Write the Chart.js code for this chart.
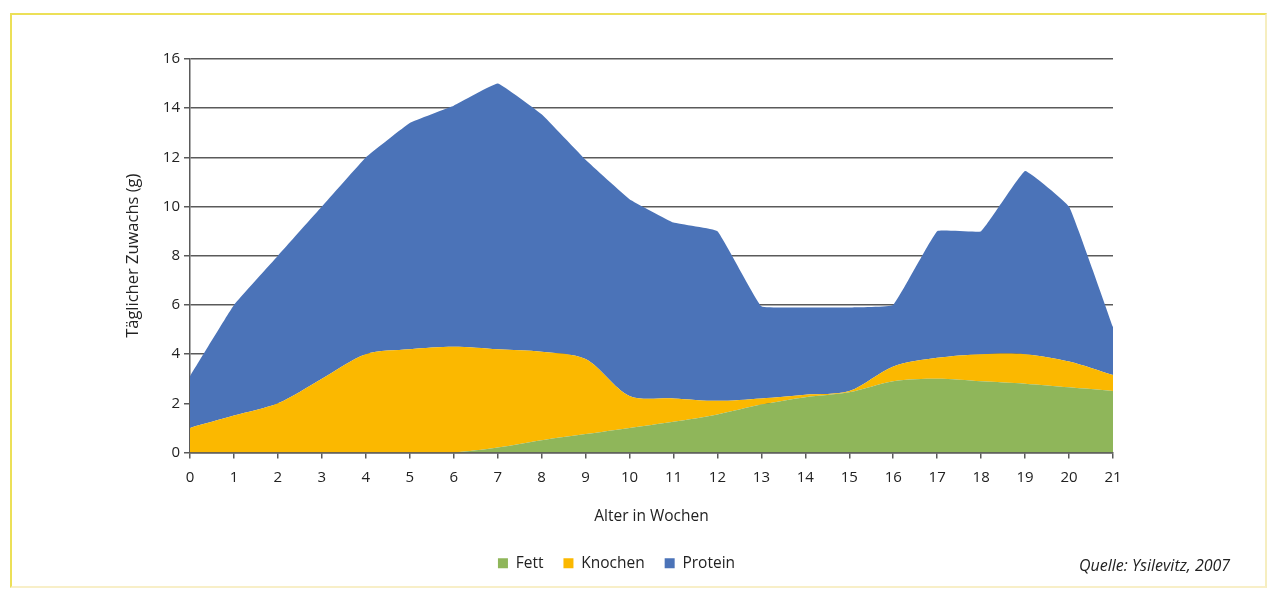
<!DOCTYPE html>
<html>
<head>
  <meta charset="utf-8">
  <title>Täglicher Zuwachs</title>
  <script src="https://cdn.jsdelivr.net/npm/chart.js@4/dist/chart.umd.min.js"></script>
  <style>
  body { margin:0; background:#fff; }
  #wrap { position:relative; width:1270px; height:589px; }
  #frame { position:absolute; left:10px; top:13px; width:1253px; height:571px;
           border-top:2px solid #ece058; border-left:2px solid #ece058;
           border-right:2px solid #f6eec0; border-bottom:2px solid #f8efc8; pointer-events:none; }
  #quelle { position:absolute; left:1079px; top:554px; font:italic 16px "Open Sans", sans-serif; color:#222; }
  </style>
</head>
<body>
<div id="wrap">
  <canvas id="chart" width="1270" height="589"></canvas>
  <div id="frame"></div>
  <div id="quelle">Quelle: Ysilevitz, 2007</div>
</div>
<script>
// Alter in Wochen
var weeks = ['0','1','2','3','4','5','6','7','8','9','10','11','12','13','14','15','16','17','18','19','20','21'];
// Tägliche Zuwächse (g), gestapelt
var fett     = [0, 0, 0, 0, 0, 0, 0, 0.2, 0.5, 0.75, 1.0, 1.25, 1.55, 1.95, 2.25, 2.45, 2.9, 3.0, 2.9, 2.8, 2.65, 2.5];
var knochen  = [1.0, 1.5, 2.0, 3.0, 4.0, 4.2, 4.3, 4.0, 3.6, 3.05, 1.3, 0.95, 0.55, 0.25, 0.1, 0.05, 0.6, 0.85, 1.1, 1.2, 1.05, 0.65];
var protein  = [2.1, 4.5, 6.0, 7.0, 8.0, 9.2, 9.8, 10.8, 9.65, 8.1, 8.0, 7.15, 6.9, 3.75, 3.55, 3.4, 2.5, 5.15, 5.0, 7.45, 6.3, 1.95];

var fontFam = '"Open Sans", sans-serif';
var gridCol = '#5a5a5a';

var ctx = document.getElementById('chart').getContext('2d');
var myChart = new Chart(ctx, {
  type: 'line',
  data: {
    labels: weeks,
    datasets: [
      { label:'Fett', data:fett, backgroundColor:'#8fb65a', borderWidth:0, pointRadius:0, fill:'origin', tension:0.3 },
      { label:'Knochen', data:knochen, backgroundColor:'#fbb800', borderWidth:0, pointRadius:0, fill:'-1', tension:0.3 },
      { label:'Protein', data:protein, backgroundColor:'#4b73b8', borderWidth:0, pointRadius:0, fill:'-1', tension:0.08 }
    ]
  },
  options: {
    responsive:false,
    animation:false,
    layout:{ padding:{ left:120, right:157, top:59, bottom:8 } },
    plugins:{
      legend:{
        position:'bottom',
        labels:{ boxWidth:10, boxHeight:10, padding:20, color:'#222', font:{ family:fontFam, size:15.5 } }
      },
      tooltip:{ enabled:false }
    },
    scales:{
      x:{
        offset:false,
        grid:{ display:true, drawOnChartArea:false, drawTicks:true, tickLength:6, color:gridCol, lineWidth:1.5, offset:false },
        border:{ display:true, color:gridCol, width:1.5 },
        ticks:{ color:'#222', padding:10, maxRotation:0, autoSkip:false, font:{ family:fontFam, size:15 } },
        title:{ display:true, text:'Alter in Wochen', color:'#222', padding:{ top:4, bottom:10 }, font:{ family:fontFam, size:15.5 } },
        afterFit:function(axis){ axis.height = 83; }
      },
      y:{
        stacked:true,
        min:0, max:16,
        grid:{ color:gridCol, lineWidth:1.5, tickLength:6 },
        border:{ display:true, color:gridCol, width:1.5 },
        ticks:{ stepSize:2, color:'#222', padding:4, font:{ family:fontFam, size:15 } },
        title:{ display:true, text:'Täglicher Zuwachs (g)', color:'#222', padding:{ top:3, bottom:4 }, font:{ family:fontFam, size:16.5 } },
        afterFit:function(axis){ axis.width = 70; }
      }
    }
  }
});
</script>
</body>
</html>
